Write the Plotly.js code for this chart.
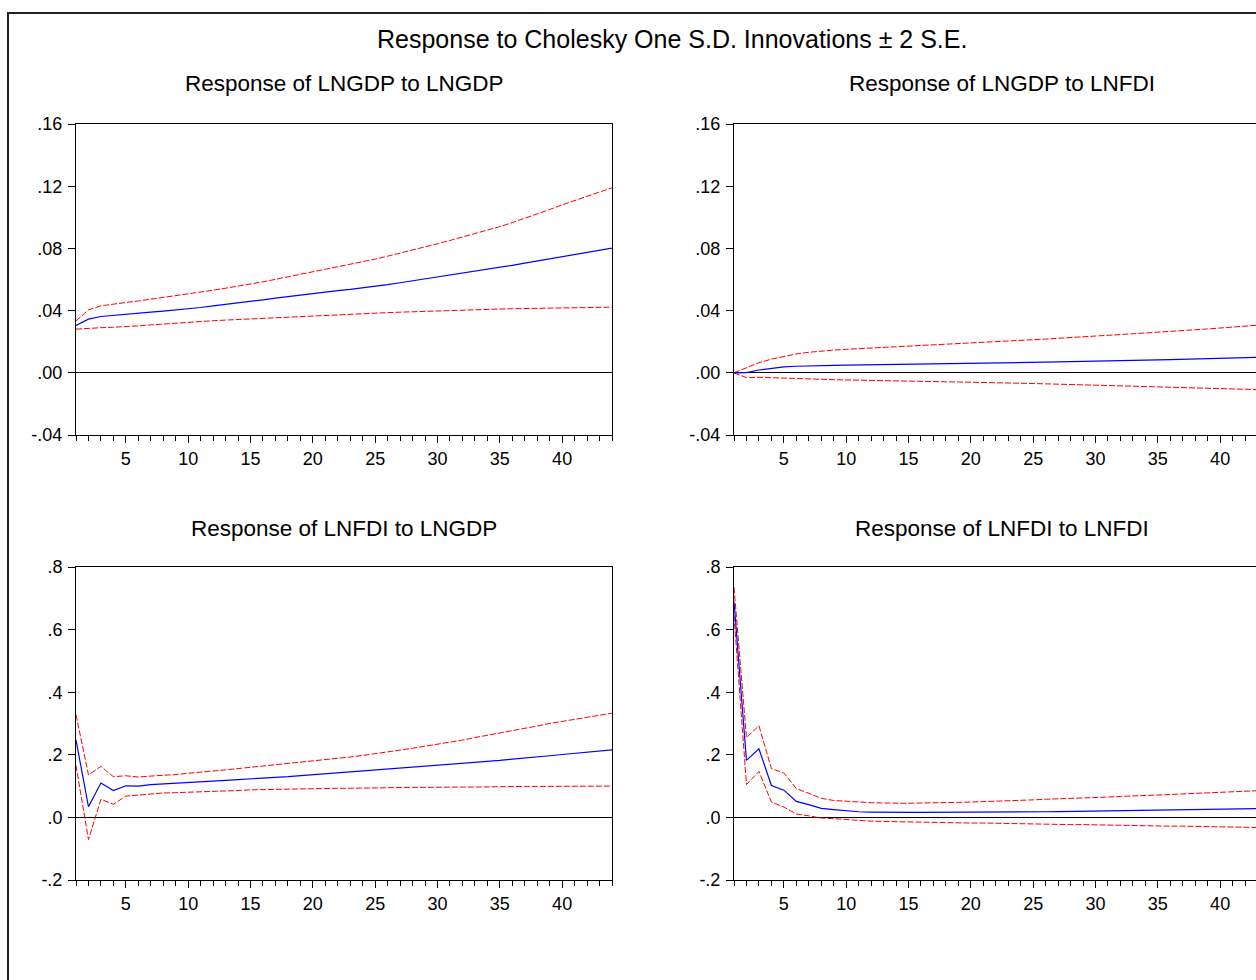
<!DOCTYPE html>
<html>
<head>
<meta charset="utf-8">
<script src="https://cdn.plot.ly/plotly-3.0.1.min.js"></script>
<style>
  html, body { margin: 0; padding: 0; background: #fff; overflow: hidden; width: 1256px; height: 980px; }
  #chart { width: 1300px; height: 1000px; }
</style>
</head>
<body>
<div id="chart"></div>
<script>
// ---- Data ----
const periods = [1,2,3,4,5,6,7,8,9,10,11,12,13,14,15,16,17,18,19,20,21,22,23,24,25,26,27,28,29,30,31,32,33,34,35,36,37,38,39,40,41,42,43,44];

const mainTitle = "Response to Cholesky One S.D. Innovations \u00b1 2 S.E.";
const panelTitles = ["Response of LNGDP to LNGDP", "Response of LNGDP to LNFDI",
                     "Response of LNFDI to LNGDP", "Response of LNFDI to LNFDI"];

const xTickVals = [5,10,15,20,25,30,35,40];
const xTickText = ["5","10","15","20","25","30","35","40"];
const yTopVals = [-0.04,0.00,0.04,0.08,0.12,0.16];
const yTopText = ["-.04",".00",".04",".08",".12",".16"];
const yBotVals = [-0.2,0.0,0.2,0.4,0.6,0.8];
const yBotText = ["-.2",".0",".2",".4",".6",".8"];

// LNGDP to LNGDP
const gdpGdpResp  = [0.0304,0.0345,0.0362,0.0370,0.0377,0.0383,0.0390,0.0397,0.0404,0.0411,0.0420,0.0430,0.0439,0.0449,0.0459,0.0469,0.0480,0.0490,0.0501,0.0512,0.0520,0.0529,0.0537,0.0546,0.0555,0.0567,0.0579,0.0591,0.0603,0.0615,0.0627,0.0640,0.0652,0.0665,0.0677,0.0691,0.0705,0.0719,0.0734,0.0748,0.0761,0.0775,0.0788,0.0802];
const gdpGdpUpper = [0.0334,0.0405,0.0431,0.0443,0.0452,0.0462,0.0473,0.0484,0.0495,0.0506,0.0518,0.0531,0.0544,0.0557,0.0570,0.0585,0.0601,0.0617,0.0634,0.0651,0.0666,0.0682,0.0698,0.0714,0.0731,0.0750,0.0769,0.0789,0.0809,0.0830,0.0851,0.0873,0.0895,0.0917,0.0940,0.0966,0.0993,0.1021,0.1050,0.1080,0.1107,0.1134,0.1162,0.1190];
const gdpGdpLower = [0.0281,0.0287,0.0290,0.0293,0.0296,0.0302,0.0308,0.0314,0.0320,0.0326,0.0330,0.0335,0.0339,0.0343,0.0347,0.0351,0.0355,0.0359,0.0363,0.0367,0.0370,0.0374,0.0377,0.0381,0.0384,0.0387,0.0390,0.0393,0.0396,0.0399,0.0401,0.0403,0.0406,0.0408,0.0410,0.0412,0.0413,0.0415,0.0416,0.0418,0.0419,0.0420,0.0421,0.0422];

// LNGDP to LNFDI
const gdpFdiResp  = [0,0.0001,0.0018,0.0030,0.0038,0.0042,0.0045,0.0047,0.0048,0.0049,0.0050,0.0052,0.0053,0.0054,0.0055,0.0056,0.0058,0.0059,0.0060,0.0061,0.0063,0.0064,0.0065,0.0067,0.0068,0.0069,0.0070,0.0072,0.0073,0.0075,0.0076,0.0078,0.0079,0.0081,0.0083,0.0085,0.0087,0.0089,0.0091,0.0093,0.0095,0.0097,0.0099,0.0101];
const gdpFdiUpper = [0,0.0033,0.0065,0.0088,0.0106,0.0121,0.0132,0.0140,0.0146,0.0151,0.0155,0.0159,0.0163,0.0167,0.0171,0.0175,0.0178,0.0182,0.0185,0.0189,0.0193,0.0198,0.0202,0.0207,0.0212,0.0217,0.0222,0.0226,0.0231,0.0236,0.0241,0.0246,0.0251,0.0257,0.0262,0.0267,0.0272,0.0277,0.0282,0.0287,0.0293,0.0300,0.0306,0.0312];
const gdpFdiLower = [0,-0.0031,-0.0029,-0.0032,-0.0036,-0.0038,-0.0040,-0.0042,-0.0044,-0.0046,-0.0048,-0.0049,-0.0050,-0.0052,-0.0054,-0.0055,-0.0056,-0.0058,-0.0059,-0.0060,-0.0062,-0.0064,-0.0065,-0.0067,-0.0069,-0.0071,-0.0073,-0.0075,-0.0077,-0.0079,-0.0081,-0.0083,-0.0084,-0.0086,-0.0088,-0.0091,-0.0093,-0.0096,-0.0098,-0.0101,-0.0104,-0.0106,-0.0109,-0.0112];

// LNFDI to LNGDP
const fdiGdpResp  = [0.247,0.034,0.110,0.086,0.101,0.100,0.105,0.107,0.108,0.110,0.113,0.116,0.118,0.121,0.124,0.126,0.128,0.130,0.133,0.135,0.138,0.141,0.144,0.147,0.150,0.153,0.156,0.159,0.162,0.165,0.168,0.172,0.175,0.178,0.182,0.186,0.189,0.193,0.197,0.201,0.205,0.209,0.212,0.216];
const fdiGdpUpper = [0.328,0.136,0.163,0.130,0.133,0.129,0.132,0.134,0.137,0.141,0.144,0.148,0.152,0.156,0.160,0.164,0.167,0.171,0.175,0.179,0.184,0.189,0.193,0.198,0.203,0.209,0.215,0.221,0.227,0.233,0.240,0.247,0.255,0.262,0.270,0.277,0.285,0.292,0.300,0.307,0.314,0.320,0.327,0.333];
const fdiGdpLower = [0.166,-0.071,0.058,0.042,0.068,0.071,0.076,0.078,0.079,0.080,0.082,0.083,0.085,0.086,0.088,0.089,0.090,0.090,0.091,0.091,0.092,0.093,0.093,0.094,0.094,0.095,0.095,0.096,0.096,0.097,0.097,0.097,0.097,0.098,0.098,0.098,0.099,0.099,0.099,0.099,0.099,0.100,0.100,0.100];

// LNFDI to LNFDI
const fdiFdiResp  = [0.690,0.182,0.219,0.102,0.087,0.051,0.041,0.029,0.025,0.021,0.018,0.017,0.016,0.016,0.016,0.016,0.016,0.016,0.016,0.016,0.017,0.017,0.017,0.0175,0.0178,0.018,0.0185,0.019,0.0195,0.020,0.0205,0.021,0.0215,0.022,0.0225,0.023,0.0237,0.0244,0.025,0.0257,0.0264,0.027,0.0278,0.0285];
const fdiFdiUpper = [0.735,0.255,0.293,0.156,0.142,0.092,0.077,0.061,0.054,0.051,0.049,0.047,0.046,0.045,0.045,0.046,0.046,0.047,0.048,0.049,0.050,0.051,0.053,0.054,0.056,0.058,0.059,0.061,0.062,0.064,0.065,0.067,0.068,0.070,0.071,0.073,0.075,0.077,0.078,0.080,0.082,0.084,0.086,0.087];
const fdiFdiLower = [0.645,0.105,0.147,0.049,0.033,0.011,0.005,-0.002,-0.004,-0.007,-0.010,-0.012,-0.013,-0.014,-0.014,-0.015,-0.016,-0.016,-0.017,-0.018,-0.018,-0.019,-0.020,-0.020,-0.021,-0.022,-0.022,-0.023,-0.023,-0.024,-0.025,-0.025,-0.026,-0.026,-0.027,-0.028,-0.028,-0.029,-0.029,-0.030,-0.031,-0.031,-0.032,-0.033];

// ---- Figure ----
const W = 1300, H = 1000;
const FONT = "Arial, 'Liberation Sans', sans-serif";

const panels = [
  {resp: gdpGdpResp, up: gdpGdpUpper, lo: gdpGdpLower, xa: 'x',  ya: 'y'},
  {resp: gdpFdiResp, up: gdpFdiUpper, lo: gdpFdiLower, xa: 'x2', ya: 'y2'},
  {resp: fdiGdpResp, up: fdiGdpUpper, lo: fdiGdpLower, xa: 'x3', ya: 'y3'},
  {resp: fdiFdiResp, up: fdiFdiUpper, lo: fdiFdiLower, xa: 'x4', ya: 'y4'}
];

const traces = [];
panels.forEach(p => {
  traces.push({x: periods, y: p.up, xaxis: p.xa, yaxis: p.ya, type: 'scatter', mode: 'lines',
    line: {color: '#ff0000', width: 1, dash: '6px,2px'}, hoverinfo: 'skip'});
  traces.push({x: periods, y: p.lo, xaxis: p.xa, yaxis: p.ya, type: 'scatter', mode: 'lines',
    line: {color: '#ff0000', width: 1, dash: '6px,2px'}, hoverinfo: 'skip'});
  traces.push({x: periods, y: p.resp, xaxis: p.xa, yaxis: p.ya, type: 'scatter', mode: 'lines',
    line: {color: '#0000ff', width: 1.2}, hoverinfo: 'skip'});
});

// pixel boxes of the plot areas
const boxes = [
  {l: 76,  r: 612,  t: 124, b: 435},
  {l: 734, r: 1270, t: 124, b: 435},
  {l: 76,  r: 612,  t: 567, b: 880},
  {l: 734, r: 1270, t: 567, b: 880}
];

function xAxis(box, anchor) {
  return {
    domain: [box.l / W, box.r / W], anchor: anchor,
    range: [1, 44], showgrid: false, zeroline: false,
    showline: true, mirror: true, linecolor: '#000', linewidth: 1,
    tickmode: 'array', tickvals: xTickVals, ticktext: xTickText,
    ticks: 'outside', ticklen: 7, tickwidth: 1, tickcolor: '#000',
    minor: {ticks: 'outside', ticklen: 5, tickwidth: 1, tickcolor: '#000', dtick: 1, tick0: 0, showgrid: false},
    tickfont: {family: FONT, size: 18, color: '#000'},
    fixedrange: true
  };
}
function yAxis(box, anchor, range, vals, text) {
  return {
    domain: [1 - box.b / H, 1 - box.t / H], anchor: anchor,
    range: range, showgrid: false,
    zeroline: true, zerolinecolor: '#000', zerolinewidth: 1,
    showline: true, mirror: true, linecolor: '#000', linewidth: 1,
    tickmode: 'array', tickvals: vals, ticktext: text,
    ticks: 'outside', ticklen: 7, tickwidth: 1, tickcolor: '#000',
    ticklabelstandoff: 2,
    tickfont: {family: FONT, size: 18, color: '#000'},
    fixedrange: true
  };
}

const annotations = [
  {text: mainTitle, x: 672 / W, y: 1 - 39 / H},
  {text: panelTitles[0], x: 344 / W, y: 1 - 84 / H},
  {text: panelTitles[1], x: 1002 / W, y: 1 - 84 / H},
  {text: panelTitles[2], x: 344 / W, y: 1 - 528 / H},
  {text: panelTitles[3], x: 1002 / W, y: 1 - 528 / H}
].map((a, i) => Object.assign(a, {
  xref: 'paper', yref: 'paper', xanchor: 'center', yanchor: 'middle', showarrow: false,
  font: {family: FONT, size: i === 0 ? 25 : 22.5, color: '#000'}
}));

const layout = {
  width: W, height: H,
  margin: {l: 0, r: 0, t: 0, b: 0},
  paper_bgcolor: '#fff', plot_bgcolor: '#fff',
  showlegend: false,
  xaxis:  xAxis(boxes[0], 'y'),
  xaxis2: xAxis(boxes[1], 'y2'),
  xaxis3: xAxis(boxes[2], 'y3'),
  xaxis4: xAxis(boxes[3], 'y4'),
  yaxis:  yAxis(boxes[0], 'x',  [-0.04, 0.16], yTopVals, yTopText),
  yaxis2: yAxis(boxes[1], 'x2', [-0.04, 0.16], yTopVals, yTopText),
  yaxis3: yAxis(boxes[2], 'x3', [-0.2, 0.8], yBotVals, yBotText),
  yaxis4: yAxis(boxes[3], 'x4', [-0.2, 0.8], yBotVals, yBotText),
  annotations: annotations,
  shapes: [{
    type: 'rect', xref: 'paper', yref: 'paper',
    x0: 8 / W, x1: 1.2, y0: -0.2, y1: 1 - 13 / H,
    line: {color: '#222', width: 2}, fillcolor: 'rgba(0,0,0,0)', layer: 'below'
  }]
};

Plotly.newPlot('chart', traces, layout, {staticPlot: true, displayModeBar: false});
</script>
</body>
</html>
